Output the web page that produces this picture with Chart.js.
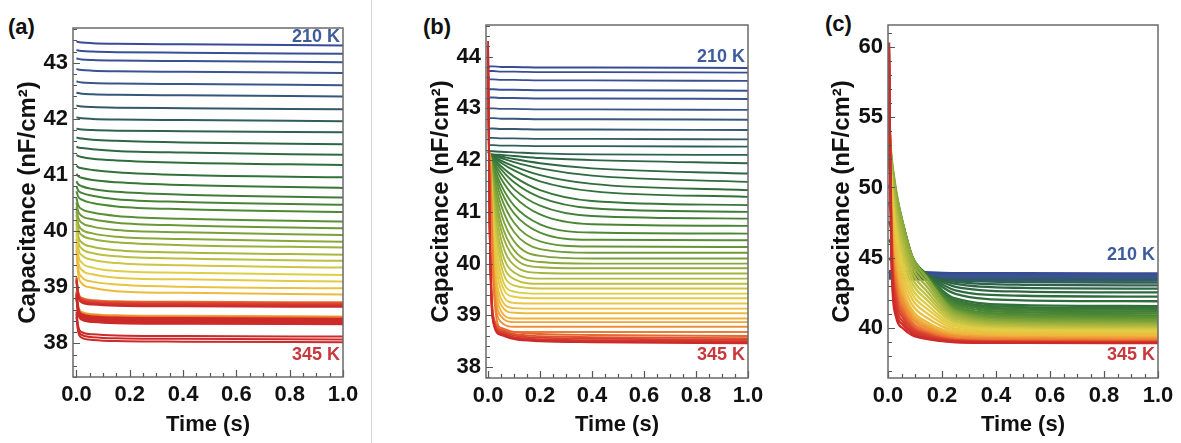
<!DOCTYPE html>
<html>
<head>
<meta charset="utf-8">
<script src="https://cdn.jsdelivr.net/npm/chart.js@4.4.0/dist/chart.umd.min.js"></script>
<style>
  body { margin: 0; background: #fff; width: 1181px; height: 443px; overflow: hidden; position: relative;
         font-family: "Liberation Sans", Arial, sans-serif; }
  .panel { position: absolute; top: 0; height: 443px; }
  .tag { position: absolute; font-weight: bold; font-size: 22px; line-height: 22px; color: #111; }
  .sep { position: absolute; left: 371px; top: 0; width: 1px; height: 443px; background: #d6d6d6; }
</style>
</head>
<body>
<div class="sep"></div>
<div class="tag" style="left:8px;top:16px">(a)</div>
<div class="tag" style="left:423px;top:16px">(b)</div>
<div class="tag" style="left:825px;top:13px">(c)</div>
<div class="panel" style="left:0;width:372px"><canvas id="chartA"></canvas></div>
<div class="panel" style="left:413px;width:367px"><canvas id="chartB"></canvas></div>
<div class="panel" style="left:814px;width:367px"><canvas id="chartC"></canvas></div>
<script>
// temperatures of the curves (K), coldest first
const temps = [210, 213, 216, 219, 222, 225, 228, 231, 234, 237, 240, 243, 246, 249, 252, 255,
  258, 261, 264, 267, 270, 273, 276, 279, 282, 285, 288, 291, 294, 297, 300, 303, 306, 309,
  312, 315, 318, 321, 324, 327, 330, 333, 336, 339, 342, 345];

const timeTicks = [0, 0.2, 0.4, 0.6, 0.8, 1.0];
const ticksA = [38, 39, 40, 41, 42, 43];
const ticksB = [38, 39, 40, 41, 42, 43, 44];
const ticksC = [40, 45, 50, 55, 60];

// ---- panel (a): capacitance (nF/cm2) per curve at each sample time
const timesA = [0, 0.006, 0.02, 0.06, 0.15, 0.4, 1.0];
const capA0 = [43.38, 43.23, 43.08, 42.89, 42.67, 42.47, 42.24, 42.03, 41.83, 41.67, 41.51, 41.36, 41.17, 41.02, 40.89, 40.80, 40.71, 40.59, 40.51, 40.43, 40.35, 40.29, 40.20, 40.13, 40.05, 39.95, 39.86, 39.76, 39.67, 38.93, 38.92, 38.91, 39.18, 39.16, 39.14, 39.12, 39.10, 38.89, 38.87, 38.85, 38.83, 38.81, 38.79, 38.57, 38.52, 38.47];
const capA1 = [43.37, 43.22, 43.07, 42.88, 42.66, 42.46, 42.23, 42.02, 41.82, 41.66, 41.49, 41.34, 41.14, 40.98, 40.84, 40.73, 40.62, 40.47, 40.36, 40.25, 40.14, 40.05, 39.93, 39.83, 39.72, 39.60, 39.48, 39.36, 39.25, 38.68, 38.67, 38.66, 38.93, 38.91, 38.89, 38.87, 38.85, 38.64, 38.62, 38.60, 38.58, 38.56, 38.54, 38.32, 38.27, 38.22];
const capA2 = [43.36, 43.21, 43.06, 42.87, 42.65, 42.45, 42.22, 42.01, 41.81, 41.65, 41.48, 41.32, 41.12, 40.95, 40.80, 40.68, 40.56, 40.39, 40.27, 40.15, 40.03, 39.93, 39.80, 39.69, 39.57, 39.44, 39.31, 39.18, 39.07, 38.56, 38.55, 38.54, 38.81, 38.79, 38.77, 38.75, 38.73, 38.52, 38.50, 38.48, 38.46, 38.44, 38.42, 38.20, 38.15, 38.10];
const capA3 = [43.35, 43.20, 43.05, 42.86, 42.64, 42.44, 42.21, 42.00, 41.80, 41.63, 41.46, 41.29, 41.09, 40.91, 40.75, 40.63, 40.50, 40.33, 40.21, 40.08, 39.96, 39.86, 39.72, 39.61, 39.49, 39.35, 39.23, 39.10, 38.99, 38.52, 38.51, 38.50, 38.77, 38.75, 38.73, 38.71, 38.69, 38.48, 38.46, 38.44, 38.42, 38.40, 38.38, 38.16, 38.11, 38.06];
const capA4 = [43.34, 43.19, 43.04, 42.85, 42.63, 42.43, 42.20, 41.99, 41.79, 41.61, 41.43, 41.26, 41.05, 40.87, 40.70, 40.57, 40.44, 40.27, 40.15, 40.02, 39.90, 39.80, 39.66, 39.55, 39.43, 39.29, 39.17, 39.05, 38.93, 38.50, 38.49, 38.48, 38.75, 38.73, 38.71, 38.69, 38.67, 38.46, 38.44, 38.42, 38.40, 38.38, 38.36, 38.14, 38.09, 38.04];
const capA5 = [43.33, 43.18, 43.03, 42.84, 42.62, 42.42, 42.19, 41.98, 41.78, 41.58, 41.40, 41.22, 41.00, 40.82, 40.65, 40.52, 40.39, 40.22, 40.10, 39.98, 39.86, 39.75, 39.62, 39.51, 39.39, 39.26, 39.14, 39.01, 38.90, 38.49, 38.48, 38.47, 38.74, 38.72, 38.70, 38.68, 38.66, 38.45, 38.43, 38.41, 38.39, 38.37, 38.35, 38.13, 38.08, 38.03];
const capA6 = [43.31, 43.16, 43.01, 42.82, 42.60, 42.40, 42.17, 41.96, 41.76, 41.55, 41.36, 41.18, 40.96, 40.77, 40.60, 40.47, 40.34, 40.17, 40.05, 39.93, 39.81, 39.71, 39.58, 39.47, 39.35, 39.22, 39.10, 38.98, 38.87, 38.48, 38.47, 38.46, 38.73, 38.71, 38.69, 38.67, 38.65, 38.44, 38.42, 38.40, 38.38, 38.36, 38.34, 38.12, 38.07, 38.02];

// ---- panel (b)
const timesB = [0, 0.006, 0.02, 0.05, 0.1, 0.2, 0.4, 1.0];
const capB0 = [43.81, 43.72, 43.56, 43.37, 43.21, 43.00, 42.81, 42.61, 42.43, 42.29, 42.20,
  42.18, 42.18, 42.18, 42.18, 42.18, 42.18, 42.18, 42.18, 42.18, 42.18,
  42.18, 42.18, 42.18, 42.18, 42.18, 42.18, 42.18, 42.18, 42.18, 42.18,
  42.18, 42.18, 42.18, 42.18, 42.18, 42.18, 42.18, 42.18, 42.18,
  43.5, 43.8, 44.0, 44.1, 44.2, 44.3];
const capB1 = [43.81, 43.72, 43.56, 43.37, 43.21, 43.00, 42.81, 42.61, 42.43, 42.29, 42.18,
  42.12, 42.12, 42.12, 42.12, 42.12, 42.12, 42.12, 42.12, 42.12, 42.12,
  42.12, 42.12, 42.12, 42.12, 42.12, 42.12, 42.12, 42.12, 42.12, 42.12,
  42.12, 42.12, 42.12, 42.12, 42.12, 42.12, 42.12, 42.12, 42.12,
  40.90, 40.86, 40.83, 40.80, 40.78, 40.76];
const capB2 = [43.81, 43.72, 43.56, 43.37, 43.21, 43.00, 42.81, 42.61, 42.43, 42.29, 42.17, 42.11, 42.10, 42.09, 42.08, 42.06, 42.04, 42.01, 41.98, 41.95, 41.90, 41.85, 41.79, 41.72, 41.64, 41.55, 41.47, 41.36, 41.24, 41.13, 41.01, 40.85, 40.72, 40.56, 40.38, 40.25, 40.11, 39.98, 39.82, 39.64, 39.00, 38.96, 38.93, 38.90, 38.88, 38.86];
const capB3 = [43.80, 43.71, 43.55, 43.36, 43.20, 42.99, 42.80, 42.60, 42.42, 42.28, 42.16, 42.10, 42.07, 42.04, 41.99, 41.95, 41.88, 41.82, 41.74, 41.64, 41.52, 41.41, 41.28, 41.13, 40.97, 40.80, 40.65, 40.47, 40.29, 40.13, 39.97, 39.79, 39.64, 39.48, 39.32, 39.20, 39.08, 38.98, 38.87, 38.74, 38.76, 38.72, 38.69, 38.66, 38.64, 38.62];
const capB4 = [43.80, 43.71, 43.55, 43.36, 43.20, 42.99, 42.80, 42.60, 42.42, 42.28, 42.15, 42.08, 42.02, 41.96, 41.88, 41.80, 41.68, 41.57, 41.44, 41.30, 41.12, 40.97, 40.79, 40.61, 40.43, 40.26, 40.12, 39.97, 39.83, 39.70, 39.58, 39.46, 39.36, 39.24, 39.14, 39.05, 38.94, 38.87, 38.78, 38.68, 38.68, 38.64, 38.61, 38.58, 38.56, 38.54];
const capB5 = [43.79, 43.70, 43.54, 43.35, 43.19, 42.98, 42.79, 42.59, 42.41, 42.27, 42.13, 42.04, 41.94, 41.84, 41.71, 41.59, 41.42, 41.28, 41.12, 40.95, 40.76, 40.60, 40.43, 40.28, 40.15, 40.03, 39.93, 39.82, 39.71, 39.61, 39.52, 39.42, 39.33, 39.23, 39.13, 39.04, 38.94, 38.87, 38.78, 38.68, 38.64, 38.60, 38.57, 38.54, 38.52, 38.50];
const capB6 = [43.79, 43.70, 43.54, 43.35, 43.19, 42.98, 42.79, 42.59, 42.41, 42.27, 42.11, 42.00, 41.84, 41.70, 41.54, 41.40, 41.21, 41.07, 40.92, 40.76, 40.60, 40.46, 40.33, 40.21, 40.10, 40.00, 39.91, 39.81, 39.71, 39.61, 39.52, 39.42, 39.33, 39.23, 39.13, 39.04, 38.94, 38.87, 38.78, 38.68, 38.62, 38.58, 38.55, 38.52, 38.50, 38.48];
const capB7 = [43.78, 43.69, 43.53, 43.34, 43.18, 42.97, 42.78, 42.58, 42.40, 42.26, 42.10, 41.94, 41.74, 41.58, 41.42, 41.29, 41.13, 41.00, 40.87, 40.73, 40.58, 40.45, 40.32, 40.21, 40.10, 40.00, 39.91, 39.81, 39.71, 39.61, 39.52, 39.42, 39.33, 39.23, 39.13, 39.04, 38.94, 38.87, 38.78, 38.68, 38.60, 38.56, 38.53, 38.50, 38.48, 38.46];

// ---- panel (c)
const timesC = [0.004, 0.012, 0.03, 0.055, 0.09, 0.14, 0.25, 0.5, 1.0];
const capC0 = [44.05, 43.99, 43.93, 43.87, 43.81, 43.74, 43.67, 43.60, 43.53, 44.00, 45.00, 46.30, 47.60, 48.90, 50.20, 51.58, 51.83, 52.11, 52.39, 52.66, 52.92, 53.20, 53.48, 53.78, 54.08, 54.38, 54.60, 54.81, 55.01, 55.22, 55.44, 55.64, 55.86, 56.07, 56.27, 56.49, 56.84, 57.20, 57.56, 57.89, 58.26, 58.65, 59.07, 59.47, 59.89, 60.30];
const capC1 = [44.05, 43.99, 43.93, 43.87, 43.81, 43.74, 43.67, 43.60, 43.53, 44.00, 44.80, 46.00, 47.10, 48.20, 49.40, 50.58, 50.73, 50.91, 51.09, 51.26, 51.42, 51.60, 51.78, 51.98, 52.18, 52.38, 52.10, 51.81, 51.51, 51.22, 50.94, 50.64, 50.36, 50.07, 49.77, 49.49, 49.05, 48.63, 48.20, 47.75, 47.33, 46.94, 46.57, 46.19, 45.82, 45.45];
const capC2 = [44.05, 43.99, 43.93, 43.87, 43.81, 43.74, 43.67, 43.60, 43.53, 43.95, 44.50, 45.40, 46.30, 47.20, 48.10, 49.08, 49.12, 49.19, 49.26, 49.32, 49.37, 49.44, 49.51, 49.60, 49.69, 49.78, 49.31, 48.83, 48.34, 47.86, 47.39, 46.90, 46.43, 45.95, 45.46, 44.99, 44.54, 44.10, 43.66, 43.19, 42.76, 42.35, 41.97, 41.57, 41.19, 40.80];
const capC3 = [44.02, 43.96, 43.90, 43.84, 43.78, 43.71, 43.64, 43.57, 43.50, 43.90, 44.20, 44.80, 45.40, 46.10, 46.70, 47.38, 47.36, 47.37, 47.38, 47.38, 47.37, 47.38, 47.39, 47.42, 47.45, 47.48, 47.02, 46.55, 46.07, 45.60, 45.14, 44.66, 44.20, 43.73, 43.25, 42.79, 42.48, 42.18, 41.88, 41.55, 41.26, 40.99, 40.75, 40.49, 40.25, 40.00];
const capC4 = [44.00, 43.94, 43.88, 43.82, 43.76, 43.69, 43.62, 43.55, 43.48, 43.80, 43.90, 44.10, 44.40, 44.70, 44.90, 45.08, 45.05, 45.05, 45.05, 45.04, 45.02, 45.02, 45.02, 45.04, 45.06, 45.08, 44.71, 44.33, 43.94, 43.56, 43.19, 42.80, 42.43, 42.05, 41.66, 41.29, 41.08, 40.88, 40.68, 40.45, 40.26, 40.09, 39.95, 39.79, 39.65, 39.50];
const capC5 = [43.98, 43.92, 43.86, 43.80, 43.74, 43.67, 43.60, 43.53, 43.46, 43.60, 43.70, 43.80, 43.85, 43.90, 43.90, 43.88, 43.83, 43.81, 43.79, 43.76, 43.72, 43.70, 43.68, 43.68, 43.68, 43.68, 43.37, 43.05, 42.72, 42.40, 42.09, 41.76, 41.45, 41.13, 40.80, 40.49, 40.33, 40.19, 40.04, 39.87, 39.73, 39.62, 39.53, 39.43, 39.34, 39.25];
const capC6 = [43.92, 43.86, 43.80, 43.74, 43.68, 43.61, 43.54, 43.47, 43.40, 43.40, 43.30, 43.15, 42.95, 42.70, 42.45, 42.12, 41.99, 41.89, 41.78, 41.67, 41.55, 41.45, 41.35, 41.26, 41.18, 41.10, 40.97, 40.83, 40.68, 40.54, 40.41, 40.25, 40.13, 39.98, 39.83, 39.70, 39.60, 39.51, 39.42, 39.30, 39.22, 39.16, 39.13, 39.08, 39.05, 39.01];
const capC7 = [43.91, 43.85, 43.79, 43.73, 43.67, 43.60, 43.53, 43.46, 43.39, 43.28, 43.09, 42.87, 42.61, 42.31, 41.99, 41.65, 41.51, 41.39, 41.27, 41.14, 41.00, 40.89, 40.77, 40.67, 40.57, 40.48, 40.39, 40.29, 40.19, 40.09, 40.00, 39.90, 39.81, 39.71, 39.61, 39.52, 39.43, 39.35, 39.27, 39.17, 39.10, 39.06, 39.04, 39.00, 38.98, 38.96];
const capC8 = [43.90, 43.84, 43.78, 43.72, 43.66, 43.59, 43.52, 43.45, 43.38, 43.25, 43.05, 42.82, 42.55, 42.25, 41.92, 41.58, 41.43, 41.31, 41.19, 41.06, 40.92, 40.80, 40.68, 40.58, 40.48, 40.38, 40.30, 40.21, 40.11, 40.02, 39.94, 39.84, 39.76, 39.67, 39.57, 39.49, 39.40, 39.33, 39.25, 39.15, 39.08, 39.04, 39.02, 38.99, 38.97, 38.95];

// blue -> green -> yellow -> red
const colorStops = [
  [0.00, [55, 75, 150]], [0.10, [58, 85, 145]], [0.16, [50, 88, 110]], [0.24, [45, 100, 70]],
  [0.33, [48, 112, 58]], [0.45, [78, 138, 52]], [0.58, [150, 175, 60]], [0.70, [226, 207, 70]],
  [0.80, [240, 180, 60]], [0.87, [236, 122, 50]], [0.93, [218, 66, 46]], [1.00, [205, 42, 42]]
];
function curveColor(i, span) {
  const f = Math.min(1, i / span);
  for (let k = 1; k < colorStops.length; k++) {
    const [p1, c1] = colorStops[k];
    const [p0, c0] = colorStops[k - 1];
    if (f <= p1) {
      const u = (f - p0) / (p1 - p0);
      const c = c0.map((v, j) => Math.round(v + (c1[j] - v) * u));
      return `rgb(${c[0]},${c[1]},${c[2]})`;
    }
  }
  return 'rgb(205,42,42)';
}

Chart.defaults.font.family = '"Liberation Sans", Arial, sans-serif';
Chart.defaults.font.weight = 'bold';
Chart.defaults.color = '#111';

// box, inward ticks and the temperature labels
const frameTicks = {
  id: 'frameTicks',
  afterDatasetsDraw(chart, args, opts) {
    const {ctx, chartArea: a, scales: {x, y}} = chart;
    ctx.save();
    ctx.strokeStyle = '#555';
    ctx.lineWidth = 1.2;
    ctx.beginPath();
    const y0 = Math.ceil(y.min / opts.yMinor - 1e-6), y1 = Math.floor(y.max / opts.yMinor + 1e-6);
    for (let k = y0; k <= y1; k++) {
      const v = k * opts.yMinor;
      const major = opts.yTicks.some(m => Math.abs(m - v) < 1e-6);
      const p = Math.round(y.getPixelForValue(v)) + 0.5;
      ctx.moveTo(a.left, p);
      ctx.lineTo(a.left + (major ? 7 : 4), p);
    }
    for (let k = 0; k <= 20; k++) {
      const v = k * 0.05;
      const major = k % 4 === 0;
      const p = Math.round(x.getPixelForValue(v)) + 0.5;
      ctx.moveTo(p, a.bottom);
      ctx.lineTo(p, a.bottom - (major ? 7 : 4));
    }
    ctx.stroke();
    ctx.strokeStyle = '#6a6a6a';
    ctx.lineWidth = 1.5;
    ctx.strokeRect(a.left, a.top, a.right - a.left, a.bottom - a.top);

    ctx.font = 'bold 18px "Liberation Sans", Arial, sans-serif';
    ctx.textAlign = 'right';
    ctx.textBaseline = 'middle';
    opts.marks.forEach(m => {
      ctx.fillStyle = m.color;
      ctx.fillText(m.text, a.right - 3, y.getPixelForValue(m.y));
    });
    ctx.restore();
  }
};

function buildPanel(id, times, rows, cfg) {
  const datasets = temps.map((t, i) => ({
    label: t + ' K',
    data: times.map((tm, k) => ({x: tm, y: rows[k][i]})),
    borderColor: curveColor(i, cfg.colorSpan),
    borderWidth: cfg.lineWidth,
    pointRadius: 0,
    cubicInterpolationMode: 'monotone',
    order: temps.length - i
  }));
  return new Chart(document.getElementById(id), {
    type: 'line',
    data: {datasets},
    options: {
      responsive: true,
      maintainAspectRatio: false,
      animation: false,
      events: [],
      layout: {padding: {top: cfg.padTop, right: cfg.padRight, left: 0, bottom: 0}},
      plugins: {
        legend: {display: false},
        tooltip: {enabled: false},
        frameTicks: {yTicks: cfg.yTicks, yMinor: cfg.yMinor, marks: cfg.marks}
      },
      scales: {
        x: {
          type: 'linear', min: cfg.xMin, max: 1,
          afterBuildTicks: s => { s.ticks = timeTicks.map(v => ({value: v})); },
          afterFit: s => { s.height = cfg.axisHeight; },
          grid: {display: false, drawTicks: false},
          border: {display: false},
          ticks: {padding: 5, autoSkip: false, maxRotation: 0, font: {size: 22, weight: 'bold'},
                  callback: v => Number(v).toFixed(1)},
          title: {display: true, text: 'Time (s)', font: {size: 22, weight: 'bold'},
                  padding: {top: 0, bottom: 5}}
        },
        y: {
          type: 'linear', min: cfg.yMin, max: cfg.yMax,
          afterBuildTicks: s => { s.ticks = cfg.yTicks.map(v => ({value: v})); },
          afterFit: s => { s.width = cfg.axisWidth; },
          grid: {display: false, drawTicks: false},
          border: {display: false},
          ticks: {padding: 5, font: {size: 22, weight: 'bold'}},
          title: {display: true, text: 'Capacitance (nF/cm²)', font: {size: 24, weight: 'bold'},
                  padding: {top: 14, bottom: 0}}
        }
      }
    },
    plugins: [frameTicks]
  });
}

const blueLabel = '#3e5b9c', redLabel = '#c8383c';

buildPanel('chartA', timesA, [capA0, capA1, capA2, capA3, capA4, capA5, capA6], {
  padTop: 28, padRight: 29, axisWidth: 73, axisHeight: 66, colorSpan: 36,
  xMin: -0.013, yMin: 37.4, yMax: 43.62, yTicks: ticksA, yMinor: 0.2, lineWidth: 2,
  marks: [{text: '210 K', y: 43.46, color: blueLabel}, {text: '345 K', y: 37.79, color: redLabel}]
});

buildPanel('chartB', timesB, [capB0, capB1, capB2, capB3, capB4, capB5, capB6, capB7], {
  padTop: 25, padRight: 32, axisWidth: 73, axisHeight: 65, colorSpan: 45,
  xMin: -0.008, yMin: 37.79, yMax: 44.61, yTicks: ticksB, yMinor: 0.2, lineWidth: 1.9,
  marks: [{text: '210 K', y: 44.0, color: blueLabel}, {text: '345 K', y: 38.23, color: redLabel}]
});

buildPanel('chartC', timesC, [capC0, capC1, capC2, capC3, capC4, capC5, capC6, capC7, capC8], {
  padTop: 25, padRight: 23, axisWidth: 74, axisHeight: 65, colorSpan: 45,
  xMin: 0, yMin: 36.47, yMax: 61.54, yTicks: ticksC, yMinor: 1, lineWidth: 2.3,
  marks: [{text: '210 K', y: 45.17, color: blueLabel}, {text: '345 K', y: 38.07, color: redLabel}]
});
</script>
</body>
</html>
